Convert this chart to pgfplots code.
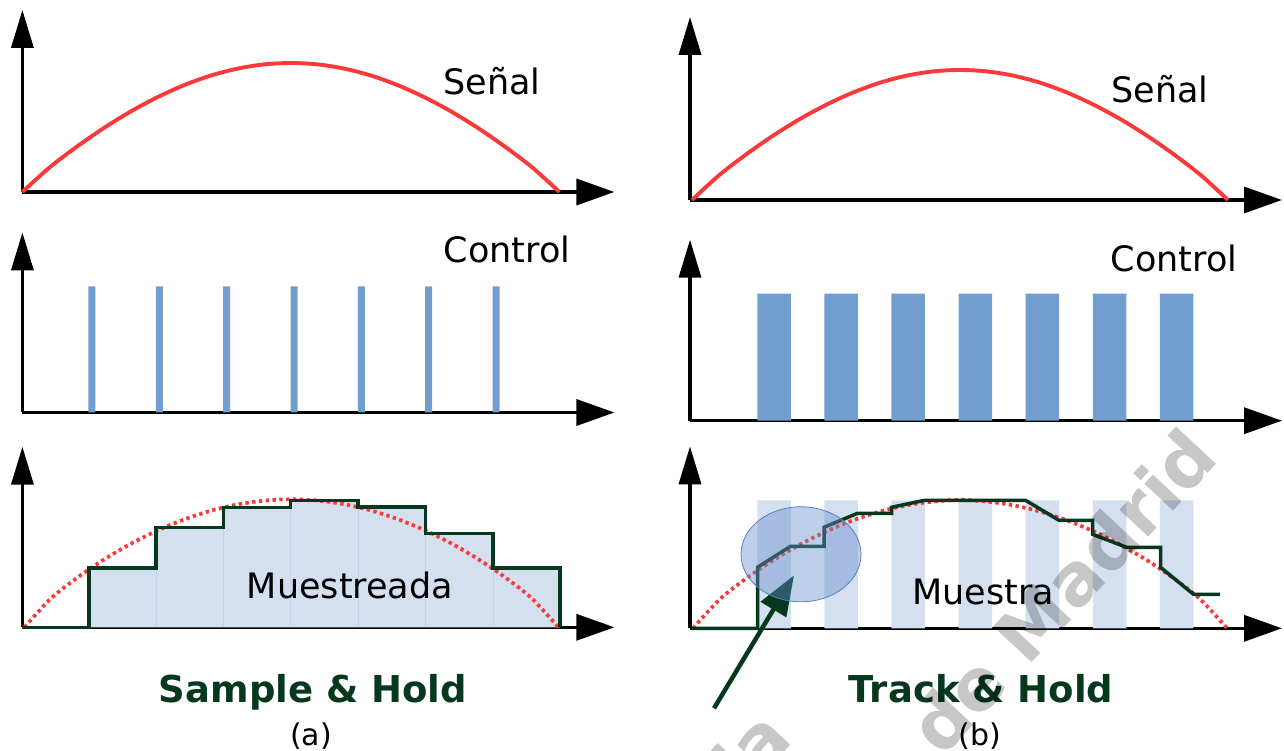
\documentclass[border=0pt]{standalone}
\usepackage{fontspec}
\setmainfont{DejaVu Sans}
\usepackage{pgfplots}
\pgfplotsset{compat=1.18}
\usetikzlibrary{arrows.meta}

\definecolor{sig}{RGB}{250,58,58}
\definecolor{ctrl}{RGB}{113,158,206}
\definecolor{pale}{RGB}{212,223,239}
\definecolor{sepline}{RGB}{196,211,232}
\definecolor{dkgreen}{RGB}{6,56,30}
\definecolor{ellfill}{RGB}{100,140,205}
\definecolor{elldraw}{RGB}{90,125,195}

\pgfplotsset{
  panel/.style={
    x=1bp, y=1bp, xmin=0, xmax=592, ymin=0,
    axis lines=left, xtick=\empty, ytick=\empty,
    enlargelimits=false, clip=false, anchor=south west,
    axis line style={line width=3.5bp},
    x axis line style={-{Triangle[length=38bp,width=26bp]}},
    y axis line style={-{Triangle[length=38bp,width=22bp]}},
  },
}
\tikzset{
  lbl/.style={anchor=base, inner sep=0pt, font=\fontsize{35bp}{40bp}\selectfont},
  ttl/.style={anchor=base, inner sep=0pt, text=dkgreen, font=\fontsize{37bp}{42bp}\selectfont\bfseries},
  sub/.style={anchor=base, inner sep=0pt, font=\fontsize{30bp}{34bp}\selectfont},
  wm/.style={rotate=47, inner sep=0pt, text=black, text opacity=0.22, font=\fontsize{72bp}{80bp}\selectfont\bfseries},
}

\begin{document}
\begin{tikzpicture}
\useasboundingbox (0,0) rectangle (1284bp,751bp);
\clip (0,0) rectangle (1284bp,751bp);

% ---- (a) Sample & Hold ----
\begin{axis}[panel, at={(22.4bp,559bp)}, ymax=182]
\addplot[sig, line width=3.9bp, smooth] coordinates {
  (0,0) (26.85,24.3) (53.7,44.8) (80.55,63.4) (107.4,80.0) (134.25,94.4)
  (161.1,106.6) (187.95,116.3) (214.8,123.3) (241.65,127.6) (268.5,129)
  (295.35,127.6) (322.2,123.3) (349.05,116.3) (375.9,106.6) (402.75,94.4)
  (429.6,80.0) (456.45,63.4) (483.3,44.8) (510.15,24.3) (537,0)};
\end{axis}

\begin{axis}[panel, at={(22.4bp,338.5bp)}, ymax=180]
\addplot[ybar, bar width=7, bar shift=0pt, fill=ctrl, draw=none] coordinates {
  (69.5,126) (136.9,126) (204.2,126) (271.6,126) (338.9,126) (406.3,126) (473.6,126)};
\end{axis}

\begin{axis}[panel, at={(22.4bp,123.7bp)}, ymax=180.6]
\addplot[const plot, fill=pale, draw=none] coordinates {
  (66.6,0) (66.6,59.3) (133.6,99.7) (200.9,119.7) (268.2,127) (335.6,120.3)
  (402.9,93.7) (470.6,59.3) (537.6,0)} \closedcycle;
\addplot[ycomb, sepline, line width=1bp] coordinates {
  (133.6,59.3) (200.9,99.7) (268.2,119.7) (335.6,120.3) (402.9,93.7) (470.6,59.3)};
\addplot[sig, line width=3.7bp, smooth, dash pattern=on 3.4bp off 3.4bp] coordinates {
  (2,0) (28.7,29.0) (55.4,50.0) (82.1,68.1) (108.8,83.7) (135.5,97.0)
  (162.2,108.0) (188.9,116.7) (215.6,123.0) (242.3,126.7) (269,128)
  (295.7,126.7) (322.4,123.0) (349.1,116.7) (375.8,108.0) (402.5,97.0)
  (429.2,83.7) (455.9,68.1) (482.6,50.0) (509.3,29.0) (536,0)};
\addplot[const plot, dkgreen, line width=3.5bp] coordinates {
  (0,0) (66.6,59.3) (133.6,99.7) (200.9,119.7) (268.2,127) (335.6,120.3)
  (402.9,93.7) (470.6,59.3) (537.6,0)};
\end{axis}

% ---- (b) Track & Hold ----
\begin{axis}[panel, at={(690bp,551bp)}, ymax=183]
\addplot[sig, line width=3.9bp, smooth] coordinates {
  (2,0) (28.8,24.5) (55.6,45.2) (82.4,63.9) (109.2,80.6) (136,95.1)
  (162.8,107.4) (189.6,117.2) (216.4,124.3) (243.2,128.6) (270,130)
  (296.8,128.6) (323.6,124.3) (350.4,117.2) (377.2,107.4) (404,95.1)
  (430.8,80.6) (457.6,63.9) (484.4,45.2) (511.2,24.5) (538,0)};
\end{axis}

\begin{axis}[panel, at={(690bp,330.3bp)}, ymax=181]
\addplot[ybar, bar width=33.5, bar shift=0pt, fill=ctrl, draw=none] coordinates {
  (84,127) (151.1,127) (218.2,127) (285.3,127) (352.4,127) (419.5,127) (486.6,127)};
\end{axis}

\begin{axis}[panel, at={(690bp,122.7bp)}, ymax=182]
\addplot[ybar, bar width=33.5, bar shift=0pt, fill=pale, draw=none] coordinates {
  (84,128) (151.1,128) (218.2,128) (285.3,128) (352.4,128) (419.5,128) (486.6,128)};
\addplot[sig, line width=3.7bp, smooth, dash pattern=on 3.4bp off 3.4bp] coordinates {
  (3,0) (29.7,29.0) (56.4,50.0) (83.1,68.1) (109.8,83.7) (136.5,97.0)
  (163.2,108.0) (189.9,116.7) (216.6,123.0) (243.3,126.7) (270,128.5)
  (296.7,126.7) (323.4,123.0) (350.1,116.7) (376.8,108.0) (403.5,97.0)
  (430.2,83.7) (456.9,68.1) (483.6,50.0) (510.3,29.0) (537,0)};
\addplot[dkgreen, line width=3.5bp] coordinates {
  (2,0) (67.5,0) (67.5,61) (100.5,82) (134,82) (134,101) (167.5,115)
  (201.5,115) (201.5,121) (234.5,128) (335.5,128) (369,108) (402.5,108)
  (402.5,94) (436.5,81) (470.5,81) (470.5,61) (503.5,34) (530,34)};
\draw[dkgreen, line width=4.5bp, -{Triangle[length=40bp,width=29bp]}]
  (axis cs:24,-80) -- (axis cs:104,53);
\draw[elldraw, line width=0.8bp, fill=ellfill, fill opacity=0.42]
  (axis cs:111,74) ellipse [x radius=60bp, y radius=47.5bp];
\end{axis}

% ---- texts ----
\node[lbl] at (492bp,656bp) {Señal};
\node[lbl] at (1160bp,648bp) {Señal};
\node[lbl] at (507bp,488bp) {Control};
\node[lbl] at (1174bp,479bp) {Control};
\node[lbl] at (350bp,152bp) {Muestreada};
\node[lbl] at (983bp,146bp) {Muestra};
\node[ttl] at (313bp,48bp) {Sample \& Hold};
\node[ttl] at (981bp,48bp) {Track \& Hold};
\node[sub] at (311bp,6bp) {(a)};
\node[sub] at (980bp,6bp) {(b)};

% ---- watermark ----
\node[wm] at (1062bp,160bp) {de Madrid};
\node[wm, anchor=base west] at (745bp,-44bp) {la};
\end{tikzpicture}
\end{document}
